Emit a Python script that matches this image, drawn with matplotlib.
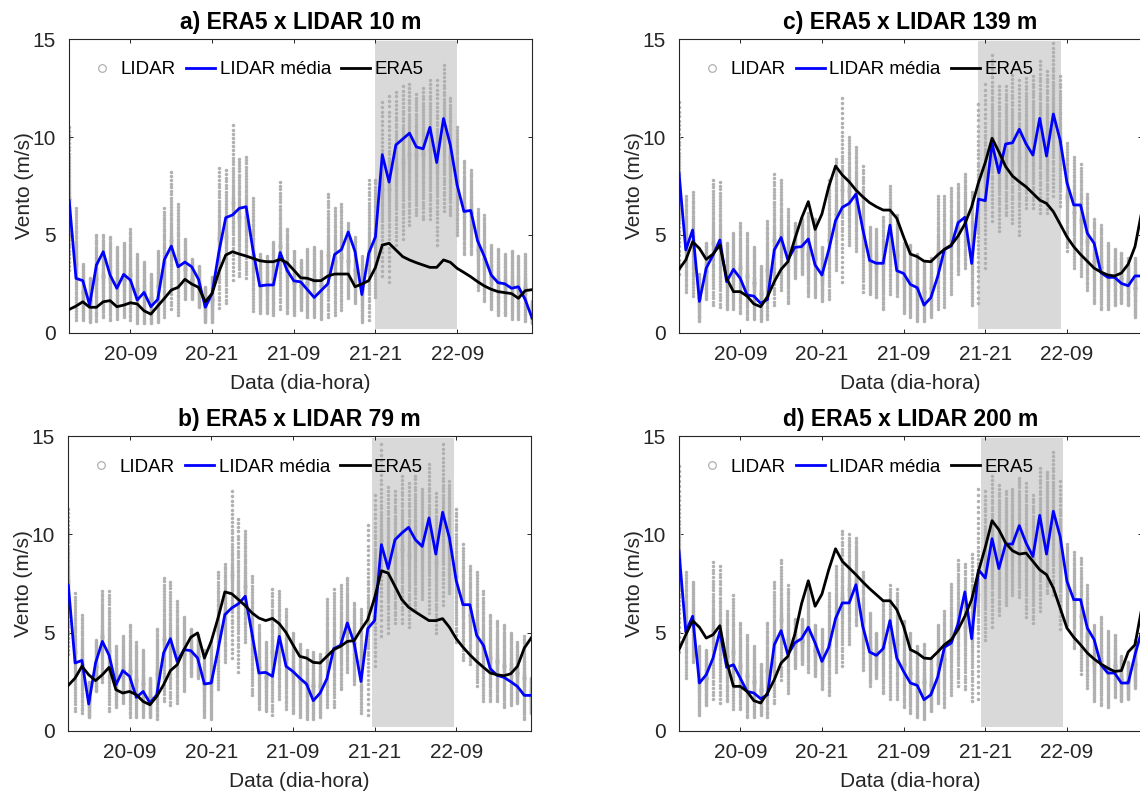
import numpy as np
import matplotlib
matplotlib.use('Agg')
import matplotlib.pyplot as plt
from matplotlib.lines import Line2D

plt.rcParams['font.family'] = ['Liberation Sans', 'DejaVu Sans']

# ---------------- data ----------------
hours = np.arange(69)                      # hours since 20-00
tick_hours = [9, 21, 33, 45, 57]
tick_labels = ['20-09', '20-21', '21-09', '21-21', '22-09']
y_ticks = [0, 5, 10, 15]

titles = ['a) ERA5 x LIDAR 10 m', 'b) ERA5 x LIDAR 79 m',
          'c) ERA5 x LIDAR 139 m', 'd) ERA5 x LIDAR 200 m']

shade_start = [45.0, 44.6, 44.0, 44.3]
shade_end = [57.0, 56.6, 56.1, 56.35]
shade_low, shade_high = 0.2, 14.9

a_mean = [6.75, 2.78, 2.66, 1.41, 3.46, 4.14, 2.95, 2.27, 2.98, 2.69,
          1.67, 2.06, 1.33, 1.70, 3.75, 4.43, 3.37, 3.61, 3.37, 2.73,
          1.30, 2.01, 4.14, 5.88, 6.02, 6.36, 6.44, 4.23, 2.39, 2.44,
          2.44, 4.10, 3.20, 2.65, 2.60, 2.20, 1.80, 2.15, 2.50, 4.00,
          4.25, 5.15, 4.15, 1.95, 4.05, 4.90, 9.10, 7.70, 9.60, 9.90,
          10.2, 9.50, 9.40, 10.5, 8.70, 10.95, 9.60, 7.55, 6.20, 6.25,
          4.70, 3.90, 2.95, 2.56, 2.50, 2.27, 2.35, 1.70, 0.75]
a_era5 = [1.19, 1.36, 1.58, 1.30, 1.30, 1.58, 1.64, 1.33, 1.41, 1.53,
          1.47, 1.12, 0.95, 1.36, 1.76, 2.18, 2.32, 2.73, 2.49, 2.32,
          1.58, 2.01, 3.12, 3.97, 4.14, 4.02, 3.92, 3.80, 3.68, 3.63,
          3.63, 3.75, 3.58, 3.20, 2.81, 2.78, 2.66, 2.66, 2.90, 3.00,
          3.00, 3.00, 2.35, 2.49, 2.66, 3.34, 4.48, 4.57, 4.23, 3.89,
          3.72, 3.58, 3.46, 3.34, 3.34, 3.72, 3.60, 3.29, 3.08, 2.86,
          2.61, 2.39, 2.22, 2.10, 2.05, 2.00, 1.76, 2.15, 2.20]
a_lo = [3.2, 0.65, 0.65, 0.55, 0.6, 0.8, 0.65, 0.7, 0.8, 0.65,
        0.5, 0.5, 0.5, 0.55, 0.8, 1.2, 0.9, 1.7, 1.7, 1.3,
        0.55, 0.55, 1.25, 1.5, 2.7, 2.9, 2.8, 1.1, 1.0, 1.0,
        0.9, 1.2, 1.0, 0.9, 1.15, 0.8, 0.8, 0.7, 0.8, 0.9,
        1.15, 1.75, 1.5, 0.55, 0.65, 1.8, 2.9, 2.6, 4.5, 4.8,
        5.5, 6.0, 5.8, 5.8, 4.5, 6.2, 6.0, 5.0, 4.0, 4.0,
        2.2, 1.6, 1.2, 0.9, 0.9, 0.7, 0.7, 0.6, 0.5]
a_hi = [10.5, 6.4, 3.5, 2.8, 5.0, 5.0, 4.9, 4.4, 4.6, 5.3,
        4.0, 3.6, 3.0, 4.2, 6.35, 8.2, 6.6, 4.8, 3.75, 3.4,
        2.35, 2.85, 8.4, 8.3, 10.6, 8.9, 9.0, 6.9, 4.0, 3.9,
        4.65, 7.7, 5.3, 4.2, 3.7, 4.3, 4.4, 4.2, 7.1, 6.4,
        6.6, 5.6, 4.9, 3.9, 7.8, 7.8, 11.8, 12.1, 12.3, 12.6,
        12.7, 12.2, 12.5, 12.9, 12.9, 13.7, 12.0, 10.5, 8.8, 8.3,
        6.3, 6.0, 4.5, 4.3, 4.0, 4.2, 3.9, 4.0, 1.6]

b_mean = [7.41, 3.45, 3.58, 1.36, 3.45, 4.55, 3.84, 2.34, 3.06, 2.77,
          1.70, 2.00, 1.41, 1.83, 3.96, 4.69, 3.53, 4.13, 4.08, 3.70,
          2.38, 2.43, 4.13, 5.91, 6.25, 6.47, 6.85, 4.93, 2.94, 2.97,
          2.77, 4.81, 3.28, 3.02, 2.68, 2.38, 1.53, 1.92, 2.65, 4.18,
          4.35, 5.49, 4.47, 2.51, 5.20, 5.61, 9.48, 8.26, 9.73, 10.07,
          10.36, 9.73, 9.39, 10.84, 9.00, 11.13, 9.82, 7.64, 6.42, 6.42,
          4.86, 4.35, 3.16, 2.82, 2.72, 2.50, 2.25, 1.80, 1.80]
b_era5 = [2.31, 2.68, 3.28, 2.85, 2.55, 2.85, 3.23, 2.09, 1.92, 2.00,
          1.83, 1.49, 1.32, 1.75, 2.34, 3.06, 3.36, 4.13, 4.76, 4.98,
          3.70, 4.55, 5.74, 7.07, 6.98, 6.68, 6.37, 6.00, 5.74, 5.61,
          5.72, 5.45, 5.00, 4.38, 3.79, 3.70, 3.48, 3.45, 3.79, 4.13,
          4.30, 4.55, 4.59, 5.15, 5.66, 6.76, 8.15, 8.03, 7.36, 6.68,
          6.29, 6.05, 5.83, 5.61, 5.61, 5.71, 5.27, 4.69, 4.25, 3.87,
          3.53, 3.23, 2.94, 2.85, 2.80, 2.90, 3.28, 4.21, 4.72]
b_lo = [3.9, 1.0, 0.9, 0.7, 2.0, 2.5, 1.0, 1.2, 1.4, 0.7,
        0.7, 0.7, 0.7, 0.6, 1.5, 1.3, 1.4, 2.0, 2.8, 2.7,
        0.7, 0.6, 2.1, 3.5, 3.7, 3.0, 4.5, 1.8, 1.1, 1.0,
        0.8, 1.6, 1.1, 0.9, 0.7, 0.6, 0.6, 0.7, 1.2, 1.2,
        2.1, 3.0, 2.4, 0.9, 0.8, 3.3, 4.8, 5.0, 5.5, 5.5,
        5.3, 6.2, 6.7, 6.0, 5.0, 6.4, 7.0, 4.5, 3.6, 3.4,
        2.3, 1.5, 1.5, 1.5, 1.2, 1.3, 1.4, 0.6, 0.9]
b_hi = [11.3, 7.0, 5.9, 2.5, 4.6, 7.1, 7.1, 4.3, 4.8, 5.4,
        4.5, 4.1, 2.7, 5.2, 7.8, 7.6, 6.6, 5.8, 5.2, 4.9,
        4.1, 4.5, 8.1, 8.5, 12.2, 10.8, 10.2, 7.9, 5.4, 4.5,
        7.2, 7.1, 6.2, 5.0, 4.4, 4.1, 4.0, 3.9, 6.7, 7.2,
        7.4, 7.8, 6.5, 6.2, 10.5, 12.0, 14.6, 12.4, 12.2, 13.0,
        12.6, 13.0, 12.3, 13.6, 12.1, 14.6, 12.7, 11.3, 9.5, 8.4,
        8.1, 7.1, 5.9, 5.6, 5.4, 5.0, 4.5, 4.8, 2.7]

c_mean = [8.15, 4.23, 5.25, 1.60, 3.30, 3.97, 4.74, 2.61, 3.24, 2.78,
          1.93, 1.87, 1.50, 1.70, 4.23, 4.87, 3.72, 4.36, 4.40, 4.79,
          3.46, 2.95, 4.23, 5.73, 6.41, 6.61, 7.09, 5.30, 3.70, 3.55,
          3.55, 5.50, 3.17, 3.03, 2.47, 2.30, 1.41, 1.79, 2.86, 4.26,
          4.43, 5.62, 5.90, 3.54, 6.83, 6.75, 9.68, 8.18, 9.65, 9.71,
          10.4, 9.65, 9.08, 10.96, 9.03, 11.18, 9.85, 7.67, 6.53, 6.53,
          5.08, 4.57, 3.07, 2.83, 2.83, 2.52, 2.40, 2.90, 2.90]
c_era5 = [3.24, 3.72, 4.65, 4.31, 3.75, 4.02, 4.48, 2.78, 2.10, 2.10,
          1.87, 1.47, 1.33, 1.84, 2.61, 3.24, 3.63, 4.77, 5.85, 6.70,
          5.28, 6.07, 7.46, 8.52, 8.06, 7.72, 7.29, 6.95, 6.65, 6.44,
          6.27, 6.27, 5.85, 4.90, 4.02, 3.89, 3.66, 3.63, 3.97, 4.26,
          4.48, 4.94, 5.56, 6.44, 7.67, 8.70, 9.94, 9.25, 8.49, 8.01,
          7.72, 7.46, 7.12, 6.78, 6.61, 6.19, 5.55, 4.90, 4.40, 4.00,
          3.65, 3.30, 3.10, 2.95, 2.90, 3.05, 3.50, 4.40, 6.20]
c_lo = [3.0, 2.1, 1.9, 0.6, 1.7, 1.4, 1.3, 1.2, 1.2, 1.0,
        0.7, 0.7, 0.6, 0.7, 1.4, 2.2, 1.5, 2.8, 3.0, 1.9,
        1.8, 1.6, 1.7, 3.2, 2.6, 4.5, 4.2, 2.1, 2.0, 1.8,
        1.2, 2.0, 1.9, 1.0, 0.8, 0.6, 0.6, 0.8, 1.2, 1.3,
        2.0, 3.0, 3.3, 1.4, 1.5, 3.3, 5.7, 5.2, 6.0, 5.6,
        5.0, 6.4, 6.4, 6.1, 6.1, 7.0, 6.5, 4.2, 3.3, 2.9,
        2.2, 1.5, 1.2, 1.2, 1.4, 1.5, 1.4, 0.8, 1.0]
c_hi = [11.8, 7.0, 7.2, 3.0, 4.6, 7.8, 7.7, 4.6, 5.1, 5.6,
        5.1, 4.4, 3.4, 5.7, 8.1, 7.8, 6.3, 5.6, 5.8, 6.1,
        5.8, 4.4, 7.8, 8.9, 12.0, 10.0, 9.5, 8.5, 5.4, 5.3,
        5.9, 7.5, 6.0, 4.6, 4.5, 4.0, 3.6, 3.8, 7.0, 7.0,
        7.4, 7.6, 8.1, 7.2, 11.7, 12.7, 14.2, 12.6, 12.6, 13.2,
        12.9, 13.0, 13.1, 13.9, 13.4, 14.8, 13.1, 9.7, 9.0, 8.6,
        7.1, 5.8, 5.5, 4.6, 4.3, 4.1, 3.8, 3.8, 3.9]

d_mean = [9.14, 5.03, 5.83, 2.43, 2.85, 3.70, 5.06, 3.23, 3.36, 2.68,
          2.00, 1.92, 1.63, 1.83, 4.38, 5.10, 3.87, 4.47, 4.69, 5.27,
          4.47, 3.53, 4.25, 5.71, 6.51, 6.51, 7.44, 5.32, 4.01, 3.84,
          4.18, 5.61, 3.70, 3.02, 2.43, 2.31, 1.58, 1.83, 2.72, 4.25,
          4.47, 5.44, 7.07, 4.69, 8.20, 7.78, 9.78, 8.26, 9.51, 9.51,
          10.45, 9.56, 8.88, 10.97, 9.00, 11.18, 9.90, 7.61, 6.68, 6.68,
          5.23, 4.64, 3.36, 2.94, 2.94, 2.43, 2.43, 3.87, 5.10]
d_era5 = [4.13, 4.89, 5.61, 5.27, 4.72, 4.89, 5.35, 3.53, 2.26, 2.26,
          2.00, 1.53, 1.41, 1.92, 2.60, 3.45, 3.79, 4.89, 6.46, 7.64,
          6.34, 6.96, 8.20, 9.27, 8.63, 8.29, 7.95, 7.58, 7.24, 6.93,
          6.62, 6.62, 6.17, 5.32, 4.13, 3.96, 3.70, 3.67, 4.01, 4.38,
          4.64, 5.15, 5.83, 6.68, 8.12, 9.34, 10.70, 10.24, 9.56, 9.17,
          9.00, 9.05, 8.63, 8.20, 7.95, 7.27, 6.25, 5.23, 4.76, 4.38,
          3.96, 3.65, 3.40, 3.19, 3.02, 3.06, 4.01, 4.38, 6.25]
d_lo = [4.0, 2.7, 3.5, 0.8, 1.3, 1.6, 1.4, 1.5, 1.1, 1.1,
        0.7, 0.7, 0.8, 0.7, 1.4, 2.6, 1.9, 3.2, 3.4, 3.0,
        2.8, 2.1, 1.8, 3.0, 3.3, 4.4, 5.4, 3.1, 2.3, 2.7,
        1.9, 1.6, 1.6, 1.2, 0.9, 0.7, 0.6, 1.0, 1.4, 1.2,
        1.8, 2.3, 2.1, 1.5, 1.6, 4.6, 5.3, 5.9, 6.4, 6.9,
        6.8, 5.8, 5.5, 6.1, 7.0, 6.9, 5.2, 5.4, 4.2, 2.9,
        2.2, 1.5, 1.3, 1.2, 1.7, 1.5, 1.6, 2.2, 3.6]
d_hi = [13.5, 8.1, 7.6, 4.3, 4.1, 8.6, 8.4, 6.1, 6.9, 5.5,
        4.9, 4.3, 3.4, 5.5, 7.6, 8.7, 7.4, 5.7, 5.7, 7.4,
        5.4, 5.2, 7.0, 8.4, 10.2, 10.0, 9.8, 8.1, 6.0, 5.0,
        6.6, 7.4, 7.2, 5.6, 5.0, 4.3, 4.4, 3.7, 5.4, 6.1,
        7.5, 8.7, 8.5, 9.0, 12.3, 12.2, 13.0, 12.5, 12.2, 12.3,
        12.9, 12.6, 12.0, 13.4, 13.2, 14.2, 12.7, 9.5, 9.1, 8.8,
        7.4, 5.4, 5.8, 5.1, 4.9, 3.8, 3.5, 4.6, 5.9]

panels = [
    (titles[0], a_mean, a_era5, a_lo, a_hi, shade_start[0], shade_end[0]),
    (titles[1], b_mean, b_era5, b_lo, b_hi, shade_start[1], shade_end[1]),
    (titles[2], c_mean, c_era5, c_lo, c_hi, shade_start[2], shade_end[2]),
    (titles[3], d_mean, d_era5, d_lo, d_hi, shade_start[3], shade_end[3]),
]
for p in panels:
    for arr in p[1:5]:
        assert len(arr) == len(hours), (p[0], len(arr))

# ---------------- layout (pixels) ----------------
W, H = 1140, 793
boxes = [  # left, top, right, bottom
    (69.2, 39.3, 532.0, 332.7),
    (68.3, 436.3, 531.1, 730.7),
    (679.0, 39.3, 1141.8, 332.7),
    (679.0, 436.3, 1141.8, 730.7),
]

AX_COL = '#262626'
GRAY_PT = '#b0b0b0'
SHADE = '#d9d9d9'

fig = plt.figure(figsize=(W / 100, H / 100), dpi=100)

# fixed shape for spreading the LIDAR samples of one hour between lo and hi
tt = np.linspace(-1, 1, 60)
spread = 0.5 + 0.5 * np.sign(tt) * np.abs(tt) ** 1.7

for (title, mean, era5, lo, hi, s0, s1), (l, t, r, b) in zip(panels, boxes):
    ax = fig.add_axes([l / W, 1 - b / H, (r - l) / W, (b - t) / H])
    ax.fill_between([s0, s1], shade_low, shade_high, color=SHADE, lw=0, zorder=1)

    xs, ys = [], []
    for h, a0, a1 in zip(hours, lo, hi):
        xs.append(np.full(spread.size, h))
        ys.append(a0 + (a1 - a0) * spread)
    ax.plot(np.concatenate(xs), np.concatenate(ys), ls='none', marker='o',
            ms=2.5, mfc=GRAY_PT, mec='none', zorder=2)
    ax.plot(hours, mean, color='#0000ff', lw=2.0, zorder=3)
    ax.plot(hours, era5, color='black', lw=2.0, zorder=4)

    ax.set_xlim(0, 68)
    ax.set_ylim(0, 15)
    ax.set_xticks(tick_hours)
    ax.set_xticklabels(tick_labels)
    ax.set_yticks(y_ticks)
    ax.set_yticklabels([str(v) for v in y_ticks])
    ax.tick_params(direction='in', top=True, right=True, length=3.2, width=0.7,
                   colors=AX_COL, labelsize=15, labelcolor=AX_COL)
    ax.tick_params(axis='x', pad=8.6)
    ax.tick_params(axis='y', pad=9.5)
    for sp in ax.spines.values():
        sp.set_color(AX_COL)
        sp.set_linewidth(0.8)

    ax.set_title(title, fontsize=16.5, fontweight='bold', color='black', pad=7.2)
    ax.set_xlabel('Data (dia-hora)', fontsize=15, color=AX_COL)
    ax.set_ylabel('Vento (m/s)', fontsize=15, color=AX_COL)
    ax.xaxis.set_label_coords(0.5, -0.14)
    ax.yaxis.set_label_coords(-0.0765, 0.5)

    handles = [
        Line2D([], [], ls='none', marker='o', ms=5.5, mfc='none', mec='#b0b0b0', mew=0.9),
        Line2D([], [], color='#0000ff', lw=2.0),
        Line2D([], [], color='black', lw=2.0),
    ]
    ax.legend(handles, ['LIDAR', 'LIDAR média', 'ERA5'], loc='upper left',
              bbox_to_anchor=(0.0395, 0.925), ncol=3, frameon=False, fontsize=13.5,
              handlelength=1.55, handletextpad=0.23, columnspacing=0.55,
              borderpad=0, borderaxespad=0)

fig.savefig('out.png', dpi=100)
